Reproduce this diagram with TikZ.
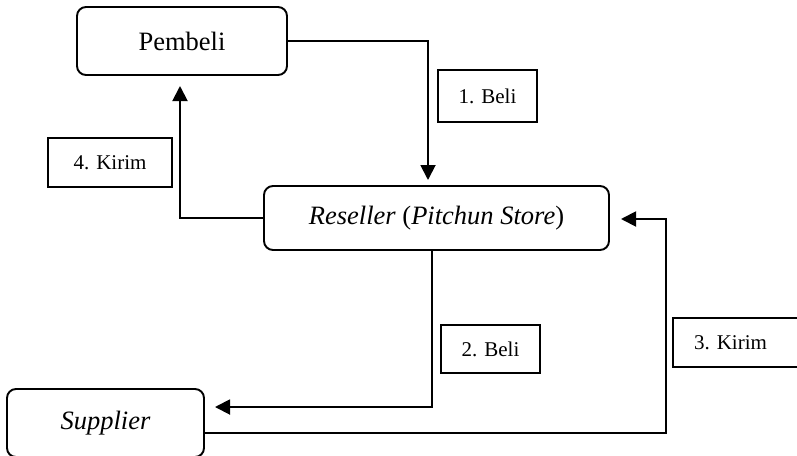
\documentclass[tikz,border=0pt]{standalone}
\usepackage{fontspec}
\setmainfont{Liberation Serif}
\usetikzlibrary{arrows.meta}
\begin{document}
\begin{tikzpicture}[x=1pt,y=-1pt,
  mainbox/.style={draw,line width=1.9pt,rounded corners=9pt,inner sep=0pt,
    font=\fontsize{26.5}{30}\selectfont},
  labelbox/.style={draw,line width=1.9pt,inner sep=0pt,
    font=\fontsize{21}{24}\selectfont},
  flow/.style={line width=1.9pt,-{Triangle[length=15pt,width=15pt]}},
  plain/.style={line width=1.9pt}]
\useasboundingbox (0,0) rectangle (797,455);
\node[mainbox,minimum width=210pt,minimum height=68pt] (pembeli) at (182,41) {Pembeli};
\node[mainbox,minimum width=345pt,minimum height=64pt] (reseller) at (436.5,218) {\textit{Reseller} (\textit{Pitchun Store})};
\node[mainbox,minimum width=197pt,minimum height=68pt] (supplier) at (105.5,423) {\textit{Supplier}};
\node[labelbox,minimum width=99pt,minimum height=52pt] (lab1) at (487.5,96) {1. Beli};
\node[labelbox,minimum width=99pt,minimum height=48pt] (lab2) at (490.5,349) {2. Beli};
\node[labelbox,minimum width=125pt,minimum height=49pt] (lab3) at (735.5,342.5) {\hspace*{-10pt}3. Kirim};
\node[labelbox,minimum width=124pt,minimum height=49pt] (lab4) at (110,162.5) {4. Kirim};
\coordinate (tip1) at (428,180);
\coordinate (tip4) at (180,86);
\coordinate (s2) at (432,250);
\coordinate (tip2) at (215,407);
\coordinate (s3) at (204,433);
\coordinate (k3) at (666,219);
\coordinate (tip3) at (621,219);
\draw[flow] (pembeli.east) -| (tip1);
\draw[flow] (reseller.west) -| (tip4);
\draw[flow] (s2) |- (tip2);
\draw[flow] (s3) -| (k3) -- (tip3);
\end{tikzpicture}
\end{document}
